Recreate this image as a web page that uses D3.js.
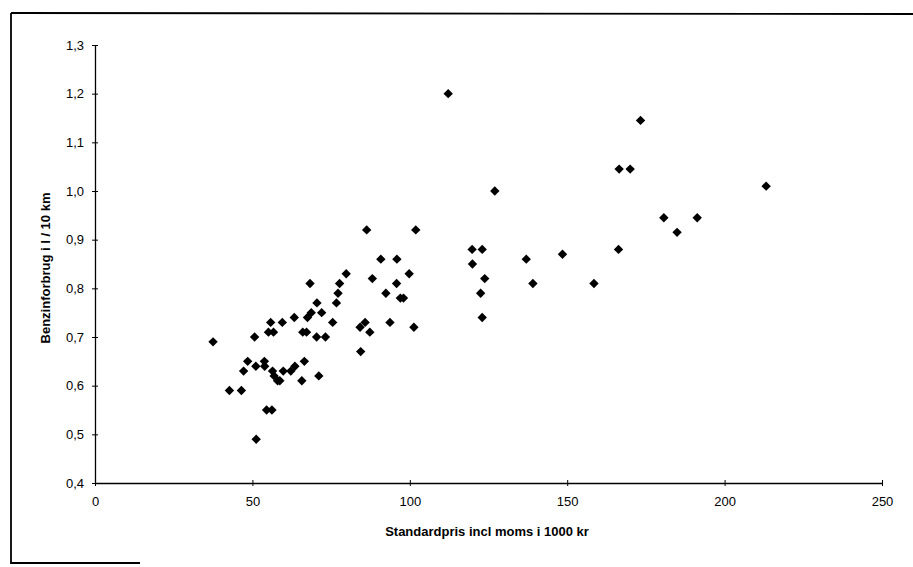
<!DOCTYPE html>
<html>
<head>
<meta charset="utf-8">
<script src="https://cdn.jsdelivr.net/npm/d3@7"></script>
<style>
  body { margin: 0; background: #fff; }
  svg { display: block; font-family: "Liberation Sans", Arial, sans-serif; }
</style>
</head>
<body>
<div id="chart"></div>
<script>
// price in 1000 kr (incl. moms)
const price = [
  37.5, 42.7, 46.5, 47.2, 48.5, 50.7, 51.1, 51.2, 53.8, 53.9,
  54.5, 56.2, 55.1, 56.7, 55.8, 56.4, 56.9, 58.0, 58.7, 59.5,
  59.8, 62.2, 63.5, 63.3, 65.7, 66.5, 66.0, 67.2, 67.5, 68.7,
  68.3, 70.5, 70.4, 71.1, 72.0, 73.2, 75.5, 76.7, 77.2, 77.7,
  79.8, 84.2, 85.8, 84.4, 86.3, 87.3, 88.1, 90.8, 92.4, 93.7,
  95.9, 95.8, 97.0, 98.0, 99.8, 101.3, 101.9,
  112.2, 119.8, 123.0, 119.9, 123.8, 122.5, 123.0, 127.0, 137.0, 139.1,
  148.5, 158.5, 166.3, 166.5, 170.0, 173.3, 180.7, 184.9, 191.3, 213.2
];
// fuel use, litres per 10 km
const fuel = [
  0.69, 0.59, 0.59, 0.63, 0.65, 0.70, 0.64, 0.49, 0.65, 0.64,
  0.55, 0.55, 0.71, 0.71, 0.73, 0.63, 0.62, 0.61, 0.61, 0.73,
  0.63, 0.63, 0.64, 0.74, 0.61, 0.65, 0.71, 0.71, 0.74, 0.75,
  0.81, 0.77, 0.70, 0.62, 0.75, 0.70, 0.73, 0.77, 0.79, 0.81,
  0.83, 0.72, 0.73, 0.67, 0.92, 0.71, 0.82, 0.86, 0.79, 0.73,
  0.86, 0.81, 0.78, 0.78, 0.83, 0.72, 0.92,
  1.20, 0.88, 0.88, 0.85, 0.82, 0.79, 0.74, 1.00, 0.86, 0.81,
  0.87, 0.81, 0.88, 1.045, 1.045, 1.145, 0.945, 0.915, 0.945, 1.01
];
const xTicks = [0, 50, 100, 150, 200, 250];
const yTicks = [0.4, 0.5, 0.6, 0.7, 0.8, 0.9, 1.0, 1.1, 1.2, 1.3];
const xTitle = 'Standardpris incl moms i 1000 kr';
const yTitle = 'Benzinforbrug i l / 10 km';

const width = 913, height = 567;
const plot = { left: 95, right: 882, top: 45, bottom: 483 };

const locale = d3.formatLocale({ decimal: ',', thousands: '.', grouping: [3], currency: ['', ' kr'] });
const fmtY = locale.format('.1f');

const svg = d3.select('#chart').append('svg')
  .attr('width', width)
  .attr('height', height);

// scanned page frame
const frame = svg.append('g')
  .attr('stroke', '#000')
  .attr('stroke-width', 1.8)
  .attr('fill', 'none');
frame.append('line').attr('x1', 11).attr('y1', 13).attr('x2', 913).attr('y2', 14);
frame.append('line').attr('x1', 11).attr('y1', 13).attr('x2', 11).attr('y2', 564);
frame.append('line').attr('x1', 11).attr('y1', 563).attr('x2', 140).attr('y2', 563);

const x = d3.scaleLinear().domain([0, 250]).range([plot.left, plot.right]);
const y = d3.scaleLinear().domain([0.4, 1.3]).range([plot.bottom, plot.top]);

// x axis, ticks crossing the line
const xAxis = svg.append('g')
  .attr('transform', `translate(0,${plot.bottom})`)
  .call(d3.axisBottom(x).tickValues(xTicks).tickSize(3).tickSizeOuter(0).tickPadding(11));
xAxis.select('.domain').attr('stroke', '#000').attr('stroke-width', 1.3);
xAxis.selectAll('.tick line').attr('y1', -3).attr('stroke', '#000');
xAxis.selectAll('.tick text')
  .attr('fill', '#000')
  .style('font-size', '13px');

const yAxis = svg.append('g')
  .attr('transform', `translate(${plot.left},0)`)
  .call(d3.axisLeft(y).tickValues(yTicks).tickFormat(fmtY).tickSize(3).tickSizeOuter(0).tickPadding(8));
yAxis.select('.domain').attr('stroke', '#000').attr('stroke-width', 1.3);
yAxis.selectAll('.tick line').attr('x1', 3).attr('x2', -3).attr('stroke', '#000');
yAxis.selectAll('.tick text')
  .attr('fill', '#000')
  .style('font-size', '13px');

// axis titles
svg.append('text')
  .attr('x', 487)
  .attr('y', 536)
  .attr('text-anchor', 'middle')
  .style('font-size', '13px')
  .style('font-weight', 'bold')
  .text(xTitle);

svg.append('text')
  .attr('transform', `translate(50,${268}) rotate(-90)`)
  .attr('text-anchor', 'middle')
  .style('font-size', '13px')
  .style('font-weight', 'bold')
  .text(yTitle);

// diamonds
const diamond = d3.symbol().type(d3.symbolSquare).size(44);
svg.append('g')
  .selectAll('path')
  .data(price.map((p, i) => ({ p, f: fuel[i] })))
  .join('path')
  .attr('d', diamond)
  .attr('transform', d => `translate(${x(d.p)},${y(d.f)}) rotate(45)`)
  .attr('fill', '#000');
</script>
</body>
</html>
